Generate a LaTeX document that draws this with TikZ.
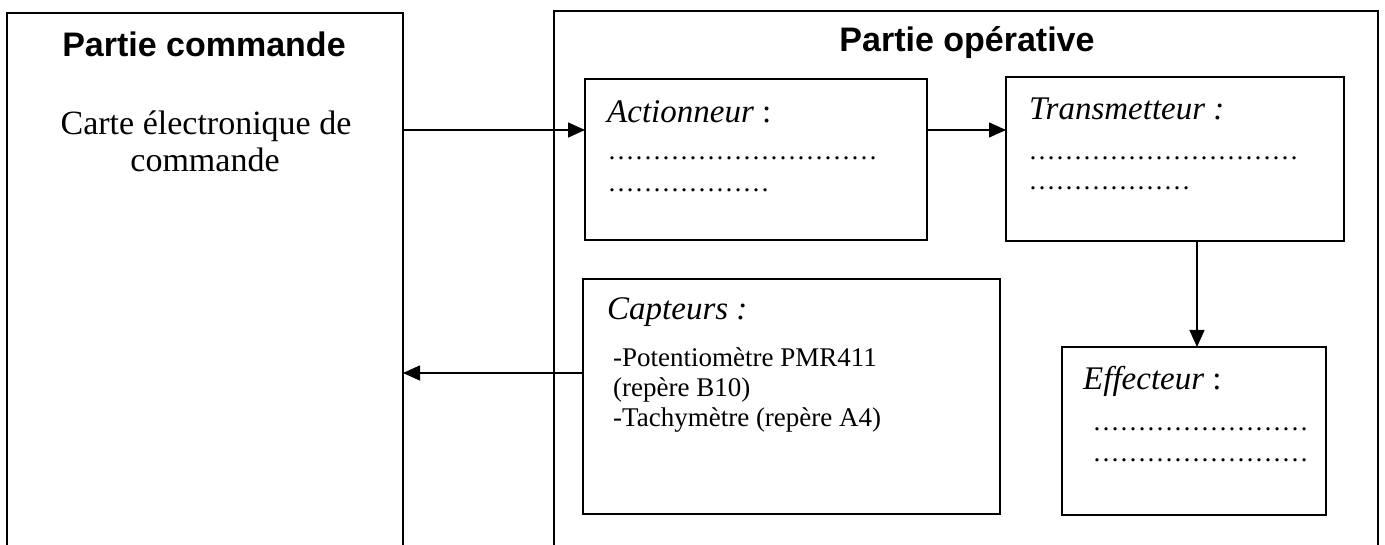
\documentclass[tikz,border=0pt]{standalone}
\usepackage{fontspec}
\setmainfont{Liberation Serif}
\newfontfamily\arialf{Liberation Sans}
\usetikzlibrary{arrows.meta}
\tikzset{
  box/.style={draw, line width=1.5pt, inner sep=0pt, outer sep=0pt},
  frame/.style={line width=1.5pt},
  conn/.style={line width=1.4pt, -{Triangle[length=17pt,width=15pt]}},
  title/.style={anchor=base, inner sep=0pt, font=\arialf\bfseries\fontsize{34}{40}\selectfont},
  maintxt/.style={anchor=base, inner sep=0pt, font=\fontsize{34}{40}\selectfont},
  head/.style={anchor=base west, inner sep=0pt, font=\itshape\fontsize{33}{40}\selectfont},
  body/.style={anchor=base west, inner sep=0pt, font=\fontsize{27}{30}\selectfont},
}
\begin{document}
\begin{tikzpicture}[x=1pt,y=-1pt]
\useasboundingbox (0,0) rectangle (1385,545);
% outer frames (open at the bottom)
\draw[frame] (7,545) -- (7,13) -- (403,13) -- (403,545);
\draw[frame] (554,545) -- (554,11) -- (1378,11) -- (1378,545);
% titles
\node[title] (tcmd) at (204,57) {Partie commande};
\node[maintxt] (carte1) at (206,135) {Carte électronique de};
\node[maintxt] (carte2) at (205,172) {commande};
\node[title] (top) at (967,52) {Partie opérative};
% boxes
\node[box, minimum width=342pt, minimum height=161pt] (act) at (756,159.5) {};
\node[box, minimum width=338pt, minimum height=164pt] (trans) at (1175,159) {};
\node[box, minimum width=417pt, minimum height=235pt] (capt) at (791.5,396.5) {};
\node[box, minimum width=264pt, minimum height=168pt] (eff) at (1194,431) {};
% texts
\node[head] (acth) at (607,123) {Actionneur\upshape{} :};
\node[body] (actd1) at (607.5,160) {…………………………};
\node[body] (actd2) at (607.5,192) {………………};
\node[head] (transh) at (1029,120) {Transmetteur :};
\node[body] (transd1) at (1028.5,160) {…………………………};
\node[body] (transd2) at (1028.5,190) {………………};
\node[head] (capth) at (607,320) {Capteurs :};
\node[body] (capt1) at (613,367) {-Potentiomètre PMR411};
\node[body] (capt2) at (613,397) {(repère B10)};
\node[body] (capt3) at (613,427) {-Tachymètre (repère A4)};
\node[head] (effh) at (1083,390) {Effecteur\upshape{} :};
\node[body] (effd1) at (1092.5,430) {……………………};
\node[body] (effd2) at (1092.5,461) {……………………};
% connectors
\coordinate (cmdout) at (403,130);
\coordinate (cmdin) at (403,373);
\coordinate (tx) at (1197,0);
\draw[conn] (cmdout) -- (act.west |- cmdout);
\draw[conn] (act.east |- cmdout) -- (trans.west |- cmdout);
\draw[conn] (trans.south -| tx) -- (eff.north -| tx);
\draw[conn] (capt.west |- cmdin) -- (cmdin);
\end{tikzpicture}
\end{document}
